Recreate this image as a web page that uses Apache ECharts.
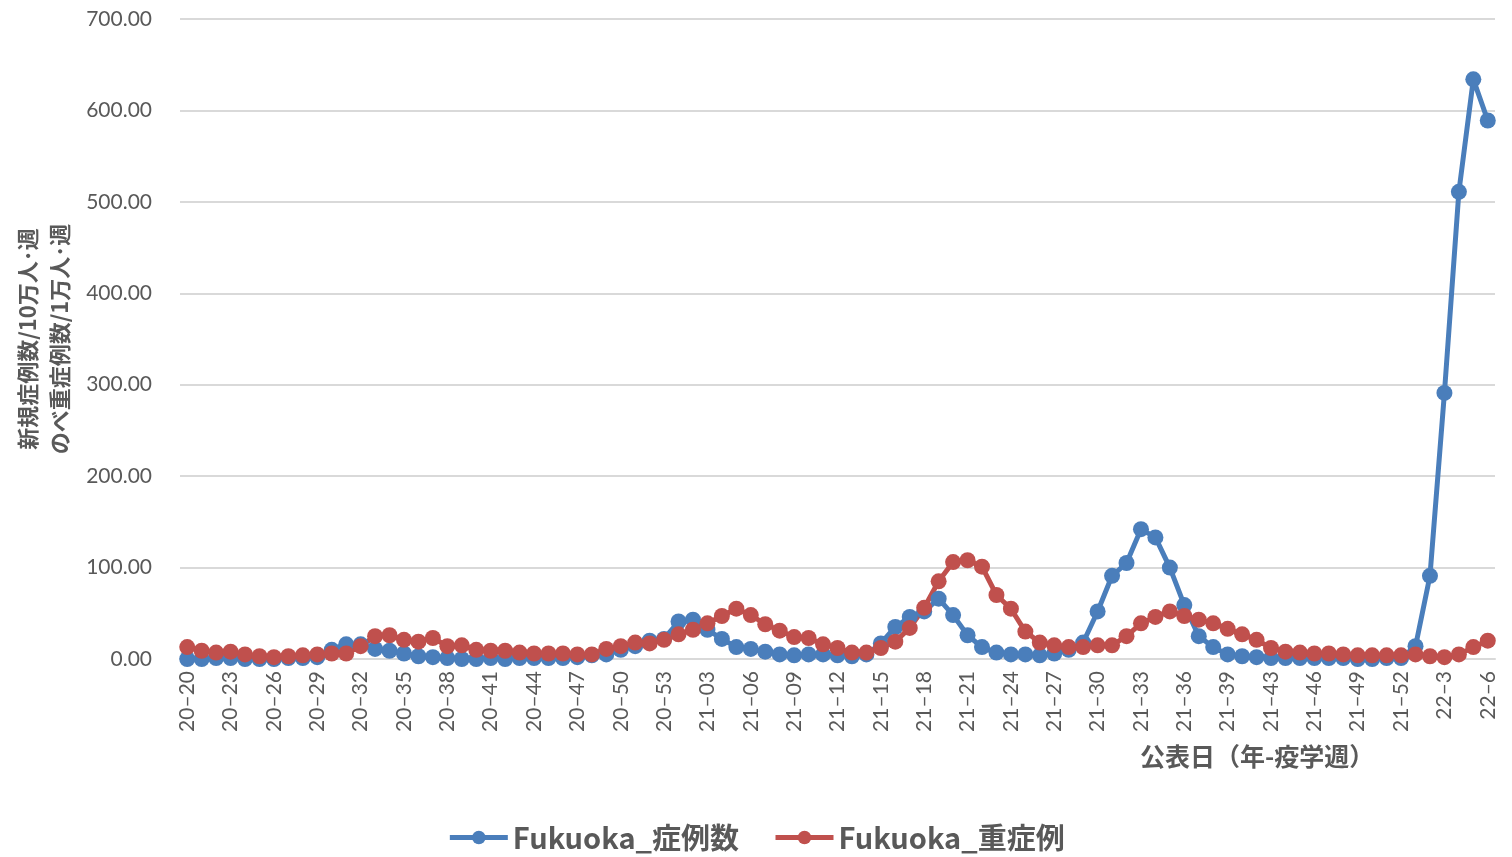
<!DOCTYPE html>
<html>
<head>
<meta charset="utf-8">
<title>Fukuoka 症例数・重症例</title>
<script src="https://cdn.jsdelivr.net/npm/echarts@6/dist/echarts.min.js"></script>
<style>
  html, body { margin: 0; padding: 0; background: #ffffff; }
  #chart { width: 1512px; height: 857px; }
</style>
</head>
<body>
<div id="chart"></div>
<script>
// 公表週（年–疫学週）
const weeks = [
  '20–20','20–21','20–22','20–23','20–24','20–25','20–26','20–27','20–28','20–29',
  '20–30','20–31','20–32','20–33','20–34','20–35','20–36','20–37','20–38','20–39',
  '20–40','20–41','20–42','20–43','20–44','20–45','20–46','20–47','20–48','20–49',
  '20–50','20–51','20–52','20–53',
  '21–01','21–02','21–03','21–04','21–05','21–06','21–07','21–08','21–09','21–10',
  '21–11','21–12','21–13','21–14','21–15','21–16','21–17','21–18','21–19','21–20',
  '21–21','21–22','21–23','21–24','21–25','21–26','21–27','21–28','21–29','21–30',
  '21–31','21–32','21–33','21–34','21–35','21–36','21–37','21–38','21–39','21–40',
  '21–41','21–43','21–44','21–45','21–46','21–47','21–48','21–49','21–50','21–51',
  '21–52',
  '22–1','22–2','22–3','22–4','22–5','22–6'
];

// 新規症例数/10万人･週
const casesPer100k = [
  0, 0, 1, 1, 0, 0, 0, 1, 1, 2,
  10, 16, 16, 11, 9, 6, 3, 2, 1, 0,
  0, 1, 0, 1, 1, 1, 1, 2, 4, 5,
  10, 14, 20, 22,
  41, 43, 32, 22, 13, 11, 8, 5, 4, 5,
  5, 4, 3, 5, 17, 35, 46, 52, 66, 48,
  26, 13, 7, 5, 5, 4, 6, 10, 18, 52,
  91, 105, 142, 133, 100, 59, 25, 13, 5, 3,
  2, 1, 1, 1, 1, 1, 1, 0, 0, 1,
  1,
  14, 91, 291, 511, 634, 589
];

// のべ重症例数/1万人･週
const severePer10k = [
  13, 9, 7, 8, 5, 3, 2, 3, 4, 5,
  6, 6, 14, 25, 26, 21, 19, 23, 14, 15,
  10, 9, 9, 7, 6, 6, 6, 5, 5, 11,
  14, 18, 17, 21,
  27, 32, 39, 47, 55, 48, 38, 31, 24, 23,
  16, 12, 7, 7, 12, 19, 34, 56, 85, 106,
  108, 101, 70, 55, 30, 18, 15, 13, 13, 15,
  15, 25, 39, 46, 52, 47, 43, 39, 33, 27,
  21, 12, 8, 7, 6, 6, 5, 4, 4, 4,
  4,
  5, 3, 2, 5, 13, 20
];

const seriesNames = ['Fukuoka_症例数', 'Fukuoka_重症例'];
const seriesColors = ['#4a7ebb', '#c0504d'];

const textColor = '#595959';
const gridColor = '#d9d9d9';
const latinFont = 'Lato, "Noto Sans CJK JP", sans-serif';
const cjkFont = '"Noto Sans CJK JP", Lato, sans-serif';

const chart = echarts.init(document.getElementById('chart'), null, { renderer: 'canvas' });

function lineSeries(name, data, color) {
  return {
    name: name,
    type: 'line',
    data: data,
    symbol: 'circle',
    symbolSize: 16,
    showSymbol: true,
    showAllSymbol: true,
    lineStyle: { width: 5, color: color },
    itemStyle: { color: color },
    emphasis: { disabled: true },
    animation: false
  };
}

chart.setOption({
  backgroundColor: '#ffffff',
  animation: false,
  grid: { left: 180, right: 17, top: 19, bottom: 198, containLabel: false },
  legend: {
    bottom: 0,
    left: 'center',
    itemWidth: 58,
    itemHeight: 17,
    itemGap: 34,
    lineStyle: { width: 5 },
    textStyle: { color: textColor, fontSize: 29, fontWeight: 'bold', fontFamily: cjkFont },
    data: seriesNames
  },
  xAxis: {
    type: 'category',
    data: weeks,
    boundaryGap: true,
    axisLine: { show: true, lineStyle: { color: gridColor, width: 2 } },
    axisTick: { show: false },
    axisLabel: {
      interval: 2,
      rotate: 90,
      margin: 12,
      color: textColor,
      fontSize: 21,
      fontFamily: latinFont
    }
  },
  yAxis: {
    type: 'value',
    min: 0,
    max: 700,
    interval: 100,
    name: '新規症例数/10万人･週\nのべ重症例数/1万人･週',
    nameLocation: 'middle',
    nameRotate: 90,
    nameGap: 104,
    nameTextStyle: {
      color: textColor,
      fontSize: 22,
      fontWeight: 'bold',
      fontFamily: cjkFont,
      lineHeight: 32
    },
    axisLine: { show: false },
    axisTick: { show: false },
    splitLine: { show: true, lineStyle: { color: gridColor, width: 2 } },
    axisLabel: {
      margin: 28,
      color: textColor,
      fontSize: 21,
      fontFamily: latinFont,
      formatter: function (v) { return v.toFixed(2); }
    }
  },
  graphic: [{
    type: 'text',
    left: 1140,
    top: 744,
    style: {
      text: '公表日（年-疫学週）',
      fill: textColor,
      font: 'bold 25px "Noto Sans CJK JP", sans-serif'
    }
  }],
  series: [
    lineSeries(seriesNames[0], casesPer100k, seriesColors[0]),
    lineSeries(seriesNames[1], severePer10k, seriesColors[1])
  ]
});
</script>
</body>
</html>
